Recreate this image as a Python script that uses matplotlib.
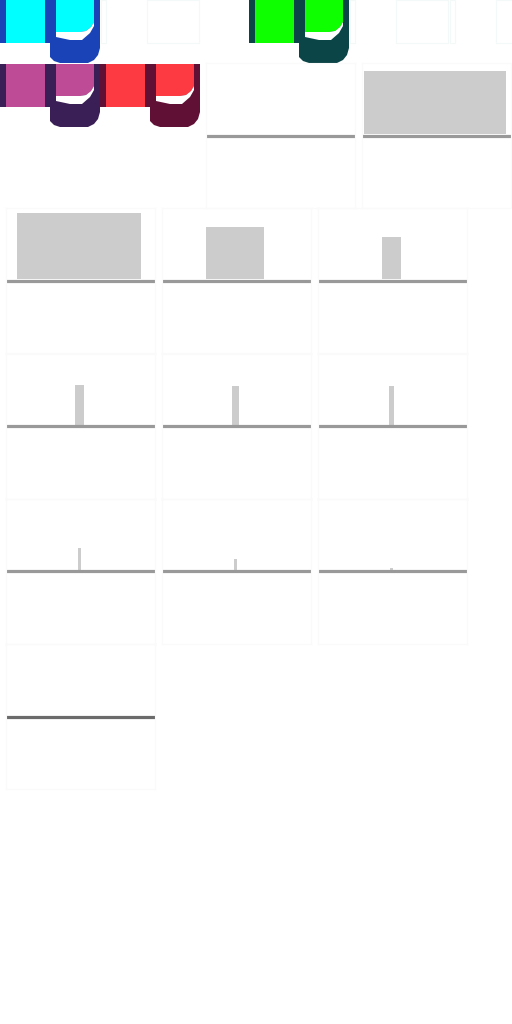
import matplotlib
matplotlib.use('Agg')
from matplotlib import pyplot as plt
from matplotlib.patches import Polygon, Rectangle

# swatch units: (dark shade, light shade), in reading order
swatch_dark = ['#1a43b8', '#0b4547', '#3a1f56', '#600f35']
swatch_light = ['#00ffff', '#0dff00', '#bd4b95', '#fd3a42']

# small-multiple bar panels, in reading order
bar_widths = [0, 142, 124, 58, 19, 9, 7, 5, 3, 3, 3, 0]
bar_heights = [0, 63, 66, 52, 42, 40, 39, 39, 22, 11, 2, 0]
baseline_colors = ['#999999'] * 11 + ['#6b6b6b']

W, H = 512, 1024
fig = plt.figure(figsize=(W / 100, H / 100), dpi=100)


def px_axes(x, y, w, h):
    ax = fig.add_axes([x / W, 1 - (y + h) / H, w / W, h / H])
    return ax


# ---- top swatch strip ----
top = px_axes(0, 0, W, 140)
top.set_xlim(0, W)
top.set_ylim(140, 0)
top.axis('off')

# unit template (pixels relative to the unit's corner)
cup = [(45, 0), (100, 0), (100, 48), (98, 55), (94, 60), (88, 63), (60, 63),
       (54, 61), (50, 57), (50, 43), (45, 43)]
inner = [(56, 0), (94, 0), (94, 22), (91, 27), (86, 31), (80, 32), (56, 32)]
gap = [(56, 32), (80, 32), (86, 31), (91, 27), (94, 22), (94, 26), (90, 33),
       (82, 40), (70, 40), (56, 37)]


def shifted(pts, ox, oy):
    return [(px + ox, py + oy) for px, py in pts]


def draw_unit(ax, ox, oy, dark, light):
    ax.add_patch(Rectangle((ox, oy), 6, 43, color=dark, lw=0))
    ax.add_patch(Rectangle((ox + 6, oy), 38.5, 43, color=light, lw=0))
    ax.add_patch(Polygon(shifted(cup, ox, oy), closed=True, color=dark, lw=0))
    ax.add_patch(Polygon(shifted(inner, ox, oy), closed=True, color=light, lw=0))
    ax.add_patch(Polygon(shifted(gap, ox, oy), closed=True, color='white', lw=0))


def draw_ghost(ax, ox, oy):
    kw = dict(fill=False, ec='#f3f9f8', lw=0.8)
    ax.add_patch(Rectangle((ox + 1, oy), 5, 43, **kw))
    ax.add_patch(Rectangle((ox + 47, oy), 52, 43, **kw))


unit_slots = [(0, 0), (249, 0), (0, 64), (100, 64)]
for (ox, oy), d, l in zip(unit_slots, swatch_dark, swatch_light):
    draw_unit(top, ox, oy, d, l)

for ox in [100, 349, 449]:
    draw_ghost(top, ox, 0)

# ---- bar panels ----
pw, ph = 149, 145
for i, (bw, bh, bc) in enumerate(zip(bar_widths, bar_heights, baseline_colors)):
    slot = i + 1
    row, col = divmod(slot, 3)
    x0 = 6 + 156 * col + (44 if row == 0 else 0)
    base = 134 + 145.25 * row
    ax = px_axes(x0, base - 71, pw, ph)
    ax.set_xlim(-pw / 2, pw / 2)
    ax.set_ylim(-74, 71)
    if bh > 0:
        ax.bar([-1.5], [bh], width=bw, color='#cccccc', zorder=1)
    ax.axhline(-1.5, xmin=-0.005, color=bc, lw=2.3, zorder=2)
    ax.set_xticks([])
    ax.set_yticks([])
    for s in ax.spines.values():
        s.set_color('#fafafa')
        s.set_linewidth(0.8)
    ax.patch.set_alpha(0)

fig.savefig('out.png', dpi=100)
